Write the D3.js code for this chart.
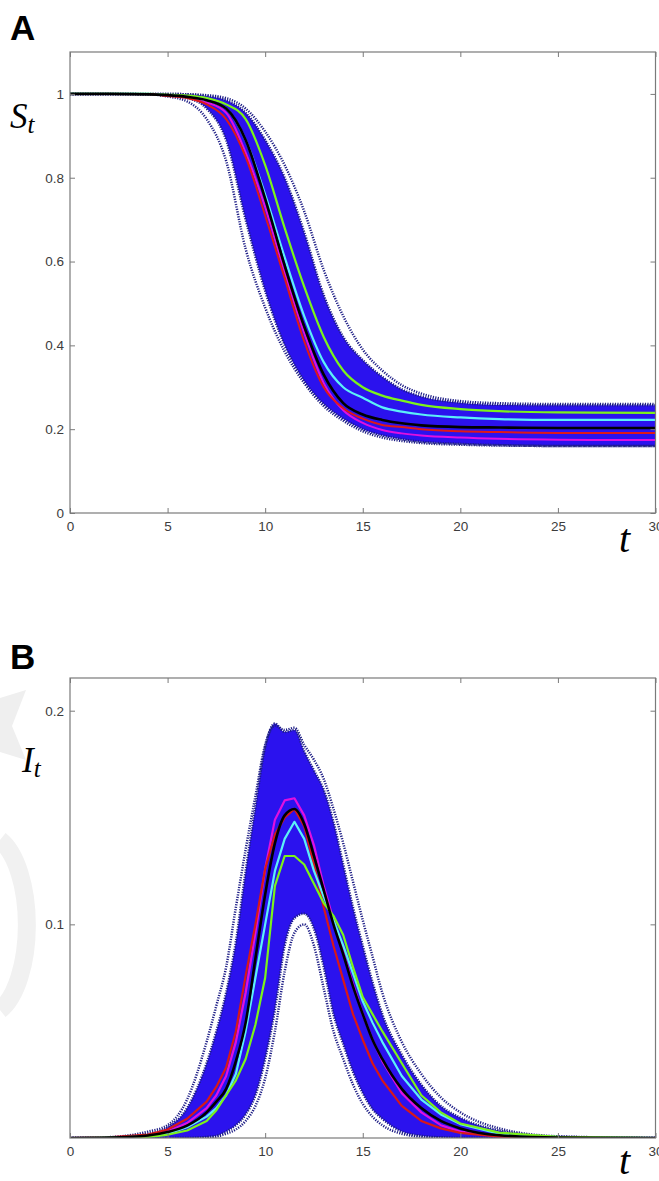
<!DOCTYPE html>
<html>
<head>
<meta charset="utf-8">
<script src="https://cdn.jsdelivr.net/npm/d3@7"></script>
<style>
  html, body { margin: 0; padding: 0; background: #fff; }
  svg { display: block; }
</style>
</head>
<body>
<svg id="chart" width="659" height="1181"></svg>
<script>
// ---------------- DATA ----------------
const xTicks = [0, 5, 10, 15, 20, 25, 30];
const yTicksA = [0, 0.2, 0.4, 0.6, 0.8, 1];
const yTicksB = [0.1, 0.2];

// Panel A: S_t
const tA = [0,2,4,5,6,7,8,9,10,11,12,13,14,15,16,17,18,20,22,25,30];
const sBlack   = [1,1,0.999,0.997,0.993,0.985,0.965,0.89,0.75,0.59,0.445,0.33,0.262,0.235,0.222,0.214,0.209,0.205,0.204,0.203,0.203];
const sGreen   = [1,1,1,0.998,0.996,0.99,0.975,0.94,0.83,0.68,0.54,0.42,0.34,0.30,0.28,0.268,0.258,0.248,0.243,0.24,0.239];
const sCyan    = [1,1,1,0.997,0.993,0.985,0.965,0.89,0.76,0.61,0.47,0.36,0.30,0.275,0.252,0.242,0.235,0.228,0.224,0.222,0.222];
const sRed     = [1,1,1,0.995,0.99,0.975,0.94,0.85,0.71,0.56,0.41,0.30,0.25,0.225,0.21,0.205,0.2,0.195,0.193,0.191,0.191];
const sMagenta = [1,1,1,0.996,0.992,0.98,0.955,0.86,0.73,0.575,0.43,0.31,0.245,0.215,0.198,0.19,0.185,0.18,0.177,0.175,0.174];
const sBandUpper = [1,1,1,1,0.999,0.995,0.985,0.955,0.89,0.80,0.67,0.52,0.42,0.365,0.325,0.295,0.278,0.263,0.258,0.257,0.257];
const sBandLower = [1,1,0.999,0.996,0.99,0.965,0.89,0.70,0.53,0.40,0.315,0.26,0.225,0.2,0.185,0.176,0.17,0.165,0.162,0.16,0.16];
const sOuterUpper = [1,1,1,1,0.999,0.997,0.99,0.965,0.91,0.83,0.72,0.58,0.47,0.39,0.34,0.305,0.285,0.267,0.262,0.26,0.26];
const sOuterLower = [1,1,0.999,0.994,0.982,0.94,0.84,0.63,0.49,0.385,0.31,0.255,0.22,0.195,0.18,0.172,0.167,0.163,0.161,0.16,0.16];

// Panel B: I_t
const tB = [0,2,4,5,6,7,7.5,8,8.5,9,9.5,10,10.5,11,11.5,12,12.5,13,13.5,14,14.5,15,15.5,16,17,18,19,20,22,25,30];
const iBlack   = [0,0.0002,0.0012,0.0028,0.0058,0.012,0.017,0.023,0.036,0.054,0.084,0.114,0.138,0.151,0.154,0.147,0.132,0.116,0.1,0.086,0.071,0.058,0.046,0.037,0.023,0.014,0.008,0.0045,0.0013,0.0002,0];
const iRed     = [0,0.0003,0.0016,0.004,0.009,0.017,0.024,0.033,0.05,0.076,0.10,0.126,0.142,0.150,0.154,0.146,0.128,0.108,0.09,0.074,0.058,0.046,0.035,0.027,0.015,0.008,0.0045,0.0024,0.0006,0.0001,0];
const iMagenta = [0,0.0002,0.001,0.003,0.007,0.014,0.02,0.029,0.045,0.068,0.096,0.126,0.149,0.158,0.159,0.151,0.137,0.118,0.102,0.087,0.072,0.058,0.046,0.036,0.021,0.012,0.006,0.003,0.0008,0.0001,0];
const iCyan    = [0,0.0002,0.0008,0.002,0.005,0.01,0.014,0.02,0.03,0.05,0.075,0.1,0.125,0.14,0.148,0.14,0.125,0.113,0.102,0.09,0.077,0.064,0.054,0.045,0.029,0.018,0.011,0.0065,0.002,0.0004,0];
const iGreen   = [0,0.0001,0.0005,0.0015,0.0035,0.008,0.013,0.02,0.027,0.037,0.053,0.075,0.118,0.132,0.132,0.128,0.119,0.11,0.104,0.095,0.08,0.066,0.058,0.05,0.035,0.02,0.012,0.0068,0.0025,0.0005,0];
const iBandUpper = [0,0.0003,0.002,0.005,0.014,0.035,0.05,0.068,0.092,0.125,0.155,0.183,0.194,0.19,0.191,0.181,0.172,0.163,0.148,0.128,0.108,0.09,0.073,0.058,0.039,0.025,0.015,0.0095,0.0035,0.0006,0];
const iBandLower = [0,0,0,0,0,0.0005,0.001,0.003,0.006,0.011,0.02,0.037,0.06,0.09,0.103,0.105,0.098,0.08,0.058,0.044,0.031,0.021,0.0135,0.009,0.003,0.001,0.0003,0,0,0,0];
const iOuterUpper = [0,0.0004,0.003,0.006,0.018,0.045,0.062,0.08,0.108,0.135,0.16,0.184,0.193,0.191,0.192,0.184,0.177,0.168,0.154,0.138,0.12,0.102,0.085,0.068,0.045,0.03,0.019,0.012,0.0045,0.0008,0];
const iOuterLower = [0,0,0,0,0,0.0003,0.0007,0.002,0.004,0.008,0.015,0.028,0.05,0.078,0.096,0.1,0.09,0.07,0.05,0.037,0.025,0.016,0.01,0.006,0.002,0.0006,0.0002,0,0,0,0];

// ---------------- DRAW ----------------
const svg = d3.select("#chart");
const AXIS = "#7a7a7a";
const BAND = "#2b12ee";
const DOT = "#1e1e86";

function panel(cfg) {
  const g = svg.append("g");
  const x = d3.scaleLinear().domain([0, 30]).range([cfg.left, cfg.right]);
  const y = d3.scaleLinear().domain(cfg.yDomain).range([cfg.bottom, cfg.top]);
  const clipId = "clip" + cfg.name;
  svg.append("defs").append("clipPath").attr("id", clipId)
    .append("rect").attr("x", cfg.left).attr("y", cfg.top)
    .attr("width", cfg.right - cfg.left).attr("height", cfg.bottom - cfg.top);
  const data = g.append("g").attr("clip-path", `url(#${clipId})`);
  const t = cfg.t;
  const curve = d3.curveMonotoneX;

  const area = d3.area().x((d, i) => x(t[i])).y0((d, i) => y(cfg.lower[i])).y1(d => y(d)).curve(curve);
  data.append("path").datum(cfg.upper).attr("d", area).attr("fill", BAND);

  const line = arr => d3.line().x((d, i) => x(t[i])).y(d => y(d)).curve(curve)(arr);
  // dotted edges of the band and outlying trajectories
  [cfg.upper, cfg.lower, cfg.outerUpper, cfg.outerLower].forEach(arr => {
    data.append("path").attr("d", line(arr)).attr("fill", "none")
      .attr("stroke", DOT).attr("stroke-width", 2.5).attr("stroke-dasharray", "1.2 1.3");
  });

  const jag = arr => d3.line().x((d, i) => x(t[i])).y(d => y(d)).curve(d3.curveLinear)(arr);
  cfg.series.forEach(s => {
    data.append("path").attr("d", (s.smooth ? line : jag)(s.values)).attr("fill", "none")
      .attr("stroke", s.color).attr("stroke-width", s.width)
      .attr("stroke-linejoin", "round");
  });

  // axes
  const axB = g.append("g").attr("transform", `translate(0,${cfg.bottom})`)
    .call(d3.axisBottom(x).tickValues(xTicks).tickSize(-5).tickPadding(8).tickFormat(d3.format("d")));
  const axT = g.append("g").attr("transform", `translate(0,${cfg.top})`)
    .call(d3.axisTop(x).tickValues(xTicks).tickSize(-5).tickFormat(""));
  const axL = g.append("g").attr("transform", `translate(${cfg.left},0)`)
    .call(d3.axisLeft(y).tickValues(cfg.yTicks).tickSize(-5).tickPadding(6).tickFormat(d => d === 0 ? "0" : d === 1 ? "1" : d3.format(".1f")(d)));
  const axR = g.append("g").attr("transform", `translate(${cfg.right},0)`)
    .call(d3.axisRight(y).tickValues(cfg.yTicks).tickSize(-5).tickFormat(""));
  [axB, axT, axL, axR].forEach(a => {
    a.select(".domain").remove();
    a.selectAll(".tick line").attr("stroke", AXIS);
    a.selectAll(".tick text").attr("fill", "#3c3c3c")
      .style("font-family", "'Liberation Sans', Arial, Helvetica, sans-serif").style("font-size", "13.5px");
  });
  g.append("rect").attr("x", cfg.left).attr("y", cfg.top)
    .attr("width", cfg.right - cfg.left).attr("height", cfg.bottom - cfg.top)
    .attr("fill", "none").attr("stroke", AXIS).attr("stroke-width", 1.2);

  // panel letter
  svg.append("text").attr("x", 10).attr("y", cfg.letterY).text(cfg.name)
    .style("font-family", "'Liberation Sans', Arial, sans-serif").style("font-weight", "bold").style("font-size", "35px");
  // y label
  const yl = svg.append("text").attr("x", cfg.yLabelX).attr("y", cfg.yLabelY)
    .style("font-family", "'Liberation Serif', 'DejaVu Serif', serif").style("font-style", "italic").style("font-size", "35px");
  yl.append("tspan").text(cfg.yLabel);
  yl.append("tspan").text("t").attr("dy", 5).style("font-size", "25px");
  // x label
  svg.append("text").attr("x", 619).attr("y", cfg.xLabelY).text("t")
    .style("font-family", "'Liberation Serif', 'DejaVu Serif', serif").style("font-style", "italic").style("font-size", "40px");
}

// faint background watermark at left edge of panel B
svg.append("path").attr("d", "M0,698 L26,690 L12,726 L26,760 L0,752 Z").attr("fill", "#efefef");
svg.append("path").attr("d", "M0,840 A 40 90 0 0 1 0,1010").attr("fill", "none").attr("stroke", "#f1f1f1").attr("stroke-width", 18);

panel({
  name: "A", left: 70, right: 655.5, top: 52, bottom: 513, yDomain: [0, 1.1], yTicks: yTicksA,
  t: tA, upper: sBandUpper, lower: sBandLower, outerUpper: sOuterUpper, outerLower: sOuterLower,
  letterY: 40, yLabel: "S", yLabelX: 10, yLabelY: 128, xLabelY: 552,
  series: [
    { values: sMagenta, color: "#e010e0", width: 2, smooth: true },
    { values: sGreen, color: "#7cf21a", width: 2.2, smooth: true },
    { values: sCyan, color: "#5cf0f8", width: 2.2, smooth: true },
    { values: sRed, color: "#e01818", width: 2, smooth: true },
    { values: sBlack, color: "#000000", width: 2.6, smooth: true }
  ]
});

panel({
  name: "B", left: 70, right: 655.5, top: 678, bottom: 1138, yDomain: [0, 0.2153], yTicks: yTicksB,
  t: tB, upper: iBandUpper, lower: iBandLower, outerUpper: iOuterUpper, outerLower: iOuterLower,
  letterY: 669, yLabel: "I", yLabelX: 22, yLabelY: 772, xLabelY: 1174,
  series: [
    { values: iMagenta, color: "#e010e0", width: 2.2, smooth: false },
    { values: iRed, color: "#d81818", width: 2.2, smooth: false },
    { values: iCyan, color: "#5cf0f8", width: 2.2, smooth: false },
    { values: iGreen, color: "#7cf21a", width: 2.2, smooth: false },
    { values: iBlack, color: "#000000", width: 2.6, smooth: true }
  ]
});
</script>
</body>
</html>
